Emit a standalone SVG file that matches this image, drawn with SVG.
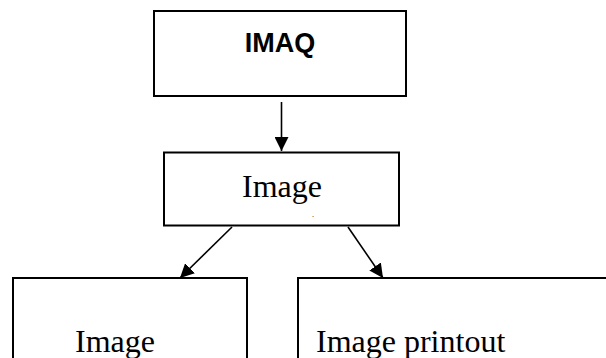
<svg xmlns="http://www.w3.org/2000/svg" width="606" height="358" viewBox="0 0 606 358">
<style>
.box{fill:#fff;stroke:#000;stroke-width:2}
.edge{stroke:#000;stroke-width:1.6;fill:none}
.t{font-family:"Liberation Serif","Times New Roman",serif;fill:#000}
.c{text-anchor:middle}
.b{font-family:"Liberation Sans",Arial,sans-serif;font-weight:bold;fill:#000;text-anchor:middle}
</style>
<defs>
<marker id="ah" markerUnits="userSpaceOnUse" markerWidth="14" markerHeight="14" viewBox="0 0 14 14" refX="14" refY="7" orient="auto">
<path d="M0,0 L14,7 L0,14 Z" fill="#000"/>
</marker>
</defs>
<rect width="606" height="358" fill="#fff"/>
<g id="imaq">
<rect class="box" x="154" y="11" width="252" height="85"/>
<text class="b" x="280" y="52" font-size="27">IMAQ</text>
</g>
<g id="image-mid">
<rect class="box" x="164" y="152.5" width="235" height="73"/>
<text class="t c" x="282" y="197" font-size="32">Image</text>
<text class="t" x="312" y="217" font-size="8">.</text>
</g>
<g id="image-left">
<rect class="box" x="13" y="278" width="234" height="100"/>
<text class="t" x="75" y="352" font-size="32">Image</text>
</g>
<g id="image-printout">
<rect class="box" x="298" y="278" width="322" height="100"/>
<text class="t" x="316" y="352" font-size="32">Image printout</text>
</g>
<g id="connectors">
<line class="edge" x1="281.5" y1="102" x2="281.5" y2="151" marker-end="url(#ah)"/>
<line class="edge" x1="232" y1="227" x2="180" y2="278" marker-end="url(#ah)"/>
<line class="edge" x1="348" y1="227" x2="383" y2="278" marker-end="url(#ah)"/>
</g>
</svg>
